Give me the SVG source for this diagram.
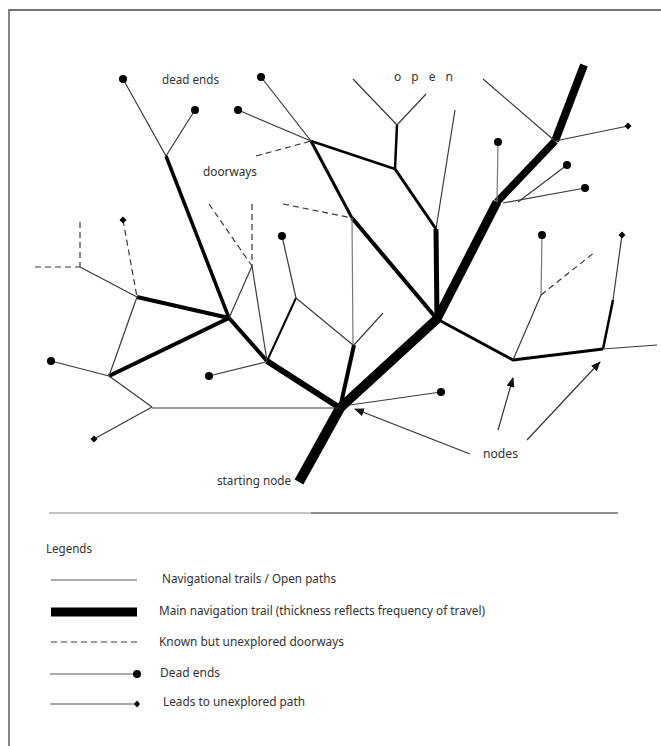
<svg xmlns="http://www.w3.org/2000/svg" width="661" height="746" viewBox="0 0 661 746">
<defs>
<style>
.t{stroke:#3a3a3a;stroke-width:1.2;fill:none}
.g{stroke:#777;stroke-width:1.2;fill:none}
.d{stroke:#3a3a3a;stroke-width:1.2;fill:none;stroke-dasharray:6 4}
.m{stroke:#000;fill:none;stroke-linecap:butt;stroke-linejoin:round}
.dot{fill:#000}
.lbl{font-family:"Noto Sans","Open Sans","Liberation Sans",sans-serif;font-size:12px;fill:#333}
.ar{stroke:#333;stroke-width:1.2;fill:none}
</style>
<marker id="ah" markerWidth="10" markerHeight="8" refX="9" refY="4" orient="auto" markerUnits="userSpaceOnUse">
<path d="M0,0 L10,4 L0,8 Z" fill="#111"/>
</marker>
</defs>
<rect width="661" height="746" fill="#fff"/>
<path d="M9,746 V10 H661" fill="none" stroke="#444" stroke-width="1.3"/>

<g id="connectors">
<!-- main trail -->
<polyline class="m" stroke-width="8" points="584,65 555,141"/>
<polyline class="m" stroke-width="7.5" points="555,141 497,202"/>
<polyline class="m" stroke-width="9" points="497,202 437,319"/>
<polyline class="m" stroke-width="9.5" points="437,319 340,408"/>
<polyline class="m" stroke-width="10" points="340,408 299,482"/>
<polyline class="m" stroke-width="3.5" points="166,156 229,318"/>
<polyline class="m" stroke-width="2.5" points="311,141 395,169"/>
<polyline class="m" stroke-width="2.5" points="397,125 395,169"/>
<polyline class="m" stroke-width="3" points="395,169 436,229"/>
<polyline class="m" stroke-width="5" points="436,229 437,319"/>
<polyline class="m" stroke-width="3" points="311,141 352,218"/>
<polyline class="m" stroke-width="4" points="352,218 437,319"/>
<polyline class="m" stroke-width="4" points="137,297 229,318"/>
<polyline class="m" stroke-width="4" points="109,376 229,318"/>
<polyline class="m" stroke-width="4" points="229,318 267,361"/>
<polyline class="m" stroke-width="6" points="267,361 340,408"/>
<polyline class="m" stroke-width="2" points="296,298 267,361"/>
<polyline class="m" stroke-width="4" points="340,408 354,345"/>
<polyline class="m" stroke-width="3" points="437,319 513,360 603,349"/>
<polyline class="m" stroke-width="2.5" points="603,349 613,300"/>
<!-- thin trails -->
<line class="t" x1="123" y1="79" x2="166" y2="156"/>
<line class="t" x1="195" y1="110" x2="166" y2="156"/>
<line class="t" x1="261" y1="77" x2="311" y2="141"/>
<line class="t" x1="238" y1="110" x2="311" y2="141"/>
<line class="t" x1="353" y1="79" x2="397" y2="125"/>
<line class="t" x1="426" y1="94" x2="397" y2="125"/>
<line class="t" x1="455" y1="110" x2="436" y2="229"/>
<line class="t" x1="483" y1="79" x2="555" y2="141"/>
<line class="t" x1="555" y1="141" x2="628" y2="126"/>
<line class="g" x1="498" y1="142" x2="497" y2="202"/>
<line class="t" x1="567" y1="165" x2="518" y2="202"/>
<line class="t" x1="585" y1="188" x2="503" y2="203"/>
<line class="g" x1="542" y1="235" x2="541" y2="295"/>
<line class="t" x1="541" y1="295" x2="513" y2="360"/>
<line class="t" x1="613" y1="300" x2="622" y2="235"/>
<line class="t" x1="603" y1="349" x2="657" y2="345"/>
<line class="t" x1="441" y1="392" x2="350" y2="405"/>
<line class="g" x1="352" y1="218" x2="353" y2="345"/>
<line class="t" x1="296" y1="298" x2="353" y2="345"/>
<line class="t" x1="383" y1="313" x2="354" y2="345"/>
<line class="t" x1="282" y1="236" x2="296" y2="298"/>
<line class="t" x1="229" y1="318" x2="252" y2="266"/>
<line class="t" x1="252" y1="266" x2="267" y2="361"/>
<line class="t" x1="209" y1="376" x2="266" y2="362"/>
<line class="t" x1="80" y1="267" x2="137" y2="297"/>
<line class="t" x1="137" y1="297" x2="109" y2="376"/>
<line class="t" x1="51" y1="361" x2="109" y2="376"/>
<line class="t" x1="109" y1="376" x2="152" y2="407"/>
<line class="t" x1="152" y1="408" x2="340" y2="408"/>
<line class="t" x1="152" y1="407" x2="94" y2="439"/>
<!-- doorways -->
<line class="d" x1="256" y1="156" x2="311" y2="141"/>
<line class="d" x1="35" y1="267" x2="80" y2="267"/>
<line class="d" x1="80" y1="222" x2="80" y2="267"/>
<line class="d" x1="123" y1="220" x2="137" y2="297"/>
<line class="d" x1="209" y1="204" x2="252" y2="266"/>
<line class="d" x1="252" y1="204" x2="252" y2="266"/>
<line class="d" x1="283" y1="204" x2="352" y2="218"/>
<line class="d" x1="541" y1="295" x2="595" y2="252"/>
<!-- arrows -->
<line class="ar" x1="470" y1="454" x2="355" y2="409" marker-end="url(#ah)"/>
<line class="ar" x1="498" y1="430" x2="513" y2="378" marker-end="url(#ah)"/>
<line class="ar" x1="527" y1="440" x2="600" y2="362" marker-end="url(#ah)"/>
</g>

<g id="dead-ends">
<circle class="dot" cx="123" cy="79" r="4"/>
<circle class="dot" cx="195" cy="110" r="4"/>
<circle class="dot" cx="261" cy="77" r="4"/>
<circle class="dot" cx="238" cy="110" r="4"/>
<circle class="dot" cx="282" cy="236" r="4"/>
<circle class="dot" cx="51" cy="361" r="4"/>
<circle class="dot" cx="209" cy="376" r="4"/>
<circle class="dot" cx="441" cy="392" r="4"/>
<circle class="dot" cx="498" cy="142" r="4"/>
<circle class="dot" cx="567" cy="165" r="4"/>
<circle class="dot" cx="585" cy="188" r="4"/>
<circle class="dot" cx="542" cy="235" r="4"/>
</g>

<g id="unexplored">
<path class="dot" d="M628,122.5 L631.5,126 L628,129.5 L624.5,126 Z"/>
<path class="dot" d="M622,231.5 L625.5,235 L622,238.5 L618.5,235 Z"/>
<path class="dot" d="M123,216.5 L126.5,220 L123,223.5 L119.5,220 Z"/>
<path class="dot" d="M94,435.5 L97.5,439 L94,442.5 L90.5,439 Z"/>
</g>

<g id="labels">
<text class="lbl" x="162" y="83.5" textLength="57" lengthAdjust="spacingAndGlyphs">dead ends</text>
<text class="lbl" x="203" y="176" textLength="54" lengthAdjust="spacingAndGlyphs">doorways</text>
<text class="lbl" x="394" y="81" font-size="11" textLength="59" lengthAdjust="spacing">o p e n</text>
<text class="lbl" x="217" y="485" textLength="74" lengthAdjust="spacingAndGlyphs">starting node</text>
<text class="lbl" x="483" y="458" textLength="35" lengthAdjust="spacingAndGlyphs">nodes</text>
</g>

<g id="legend">
<line x1="49" y1="513" x2="311" y2="513" stroke="#888" stroke-width="1.2"/>
<line x1="311" y1="513" x2="618" y2="513" stroke="#222" stroke-width="1.2"/>
<text class="lbl" x="46" y="553" textLength="46" lengthAdjust="spacingAndGlyphs">Legends</text>
<line x1="51" y1="580" x2="137" y2="580" stroke="#555" stroke-width="1.2"/>
<text class="lbl" x="162" y="583" textLength="174" lengthAdjust="spacingAndGlyphs">Navigational trails / Open paths</text>
<rect x="51" y="607.5" width="86" height="9" fill="#000"/>
<text class="lbl" x="159" y="615" textLength="326" lengthAdjust="spacingAndGlyphs">Main navigation trail (thickness reflects frequency of travel)</text>
<line class="d" x1="51" y1="642" x2="137" y2="642" stroke-dasharray="7 4"/>
<text class="lbl" x="159" y="646" textLength="185" lengthAdjust="spacingAndGlyphs">Known but unexplored doorways</text>
<line x1="50" y1="674" x2="137" y2="674" stroke="#555" stroke-width="1.2"/>
<circle class="dot" cx="137" cy="674" r="4"/>
<text class="lbl" x="160" y="677" textLength="60" lengthAdjust="spacingAndGlyphs">Dead ends</text>
<line x1="50" y1="704" x2="137" y2="704" stroke="#555" stroke-width="1.2"/>
<path class="dot" d="M137,700.5 L140,704 L137,707.5 L134,704 Z"/>
<text class="lbl" x="163" y="706" textLength="142" lengthAdjust="spacingAndGlyphs">Leads to unexplored path</text>
</g>
</svg>
